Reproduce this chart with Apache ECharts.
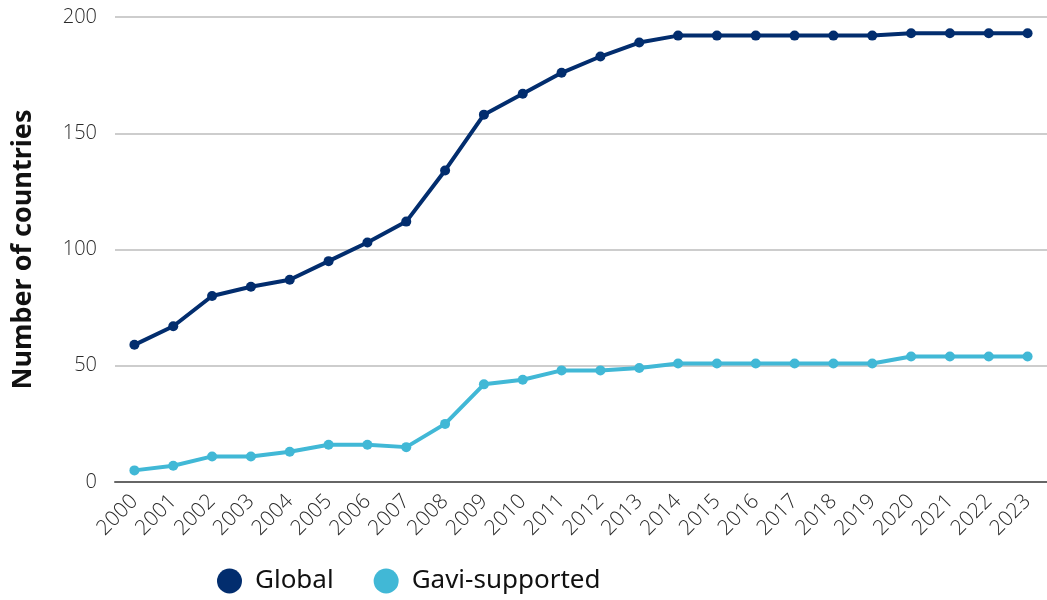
<!DOCTYPE html>
<html>
<head>
<meta charset="utf-8">
<script src="https://cdn.jsdelivr.net/npm/echarts@6/dist/echarts.min.js"></script>
<style>
  html, body { margin: 0; padding: 0; background: #fff; }
  #chart { width: 1047px; height: 600px; }
</style>
</head>
<body>
<div id="chart"></div>
<script>
const years = ['2000','2001','2002','2003','2004','2005','2006','2007','2008','2009','2010','2011',
  '2012','2013','2014','2015','2016','2017','2018','2019','2020','2021','2022','2023'];
const globalCountries = [59, 67, 80, 84, 87, 95, 103, 112, 134, 158, 167, 176,
  183, 189, 192, 192, 192, 192, 192, 192, 193, 193, 193, 193];
const gaviCountries = [5, 7, 11, 11, 13, 16, 16, 15, 25, 42, 44, 48,
  48, 49, 51, 51, 51, 51, 51, 51, 54, 54, 54, 54];
const yTicks = { min: 0, max: 200, interval: 50 };

const chart = echarts.init(document.getElementById('chart'));
const font = "'Open Sans', 'Noto Sans', sans-serif";

const option = {
  animation: false,
  textStyle: { fontFamily: font },
  grid: { left: 115, right: -8, top: 17, bottom: 118 },
  legend: {
    bottom: 1,
    left: 212,
    itemWidth: 25,
    itemHeight: 25,
    itemGap: 40,
    icon: 'circle',
    textStyle: { fontSize: 26, color: '#111', fontFamily: "'Noto Sans', sans-serif", padding: [0, 0, 0, 8] },
    data: ['Global', 'Gavi-supported']
  },
  xAxis: {
    type: 'category',
    data: years,
    boundaryGap: true,
    axisTick: { show: false },
    axisLine: { show: true, lineStyle: { color: '#666', width: 2 } },
    axisLabel: { rotate: 45, fontSize: 21, color: '#2a2a2a', fontWeight: 300, margin: 16 }
  },
  yAxis: {
    type: 'value',
    min: yTicks.min,
    max: yTicks.max,
    interval: yTicks.interval,
    name: 'Number of countries',
    nameLocation: 'middle',
    nameGap: 78,
    nameTextStyle: { fontSize: 27, fontWeight: 'bold', color: '#111', fontFamily: "'Noto Sans', sans-serif" },
    axisLabel: { fontSize: 20, color: '#2a2a2a', fontWeight: 300, margin: 18 },
    splitLine: { lineStyle: { color: '#bdbdbd', width: 1.5 } },
    axisLine: { show: false },
    axisTick: { show: false }
  },
  series: [
    {
      name: 'Global',
      type: 'line',
      data: globalCountries,
      color: '#022d6e',
      symbol: 'circle',
      symbolSize: 10,
      lineStyle: { width: 4 },
      z: 3
    },
    {
      name: 'Gavi-supported',
      type: 'line',
      data: gaviCountries,
      color: '#41b8d6',
      symbol: 'circle',
      symbolSize: 10,
      lineStyle: { width: 4 },
      z: 3
    }
  ]
};
chart.setOption(option);
</script>
</body>
</html>
